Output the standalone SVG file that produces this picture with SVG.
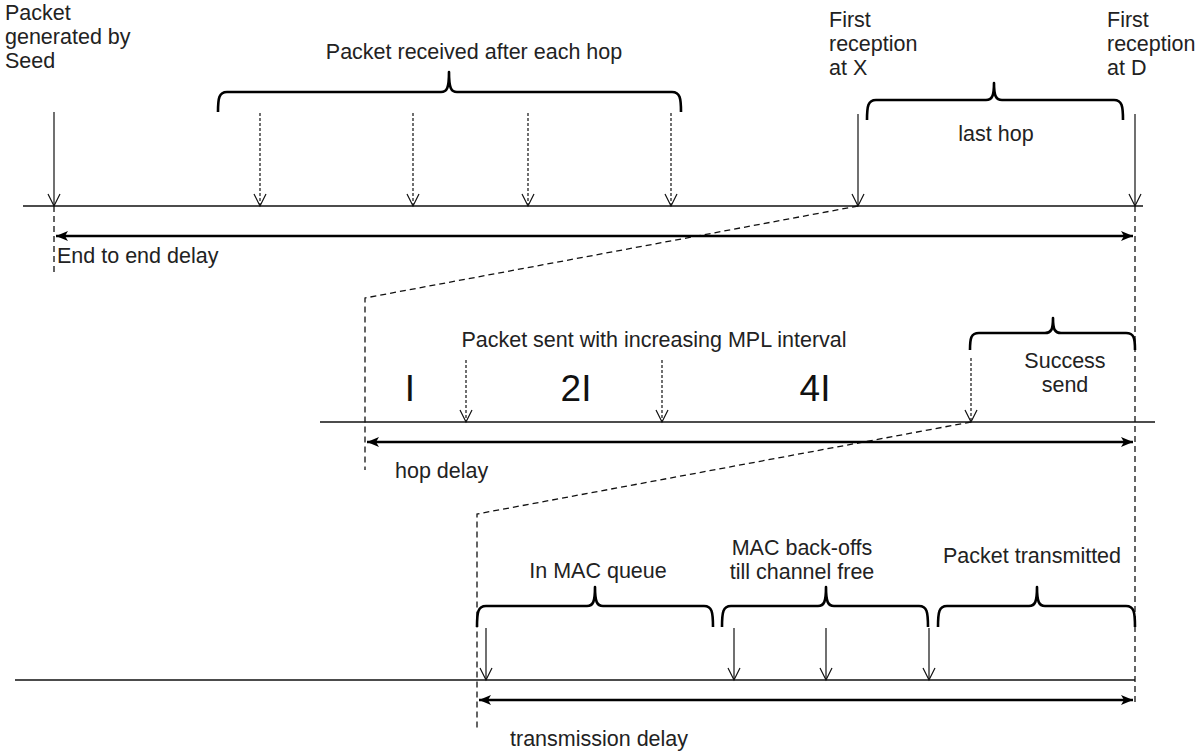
<svg xmlns="http://www.w3.org/2000/svg" width="1204" height="752" viewBox="0 0 1204 752">
<style>
text{font-family:"Liberation Sans",Arial,sans-serif;font-size:21.5px;fill:#222}
.big{font-size:37px;fill:#111}
.tl{stroke:#111;stroke-width:1.3;fill:none}
.arr{stroke:#111;stroke-width:1.2;fill:none;marker-end:url(#vh)}
.dot{stroke:#111;stroke-width:1.2;fill:none;stroke-dasharray:3 2;marker-end:url(#vh)}
.dash{stroke:#111;stroke-width:1.3;fill:none;stroke-dasharray:6 4}
.delay{stroke:#000;stroke-width:2.6;fill:none;marker-start:url(#fh);marker-end:url(#fh)}
.brace{stroke:#000;stroke-width:2.6;fill:none;stroke-linejoin:round}
</style>
<defs>
<marker id="vh" markerUnits="userSpaceOnUse" markerWidth="16" markerHeight="16" refX="12" refY="6" orient="auto" overflow="visible">
<path d="M0,0 L12,6 L0,12" fill="none" stroke="#111" stroke-width="1.2"/>
</marker>
<marker id="fh" markerUnits="userSpaceOnUse" markerWidth="14" markerHeight="12" refX="12" refY="5" orient="auto-start-reverse" overflow="visible">
<path d="M0,0 L12,5 L0,10 L3,5 z" fill="#000"/>
</marker>
</defs>
<rect width="1204" height="752" fill="#fff"/>

<g id="connectors">
<line class="tl" x1="23" y1="206" x2="1143" y2="206"/>
<line class="tl" x1="320" y1="422" x2="1155" y2="422"/>
<line class="tl" x1="15" y1="680" x2="1135" y2="680"/>
<line class="arr" x1="54" y1="112" x2="54" y2="206"/>
<line class="dot" x1="260" y1="113" x2="260" y2="206"/>
<line class="dot" x1="413" y1="113" x2="413" y2="206"/>
<line class="dot" x1="528" y1="113" x2="528" y2="206"/>
<line class="dot" x1="671" y1="113" x2="671" y2="206"/>
<line class="arr" x1="858" y1="114" x2="858" y2="206"/>
<line class="arr" x1="1135" y1="114" x2="1135" y2="206"/>
<line class="dot" x1="466" y1="360" x2="466" y2="422"/>
<line class="dot" x1="662" y1="360" x2="662" y2="422"/>
<line class="dot" x1="971" y1="358" x2="971" y2="422"/>
<line class="arr" x1="486" y1="628" x2="486" y2="680"/>
<line class="arr" x1="734" y1="628" x2="734" y2="680"/>
<line class="arr" x1="826" y1="628" x2="826" y2="680"/>
<line class="arr" x1="929" y1="628" x2="929" y2="680"/>
<line class="dash" x1="54" y1="206" x2="54" y2="272"/>
<line class="dash" x1="1135" y1="206" x2="1135" y2="702"/>
<polyline class="dash" points="858,206 365,298 365,470"/>
<polyline class="dash" points="971,422 477,514 477,730"/>
<line class="delay" x1="56" y1="236" x2="1133" y2="236"/>
<line class="delay" x1="367" y1="442" x2="1133" y2="442"/>
<line class="delay" x1="479" y1="700" x2="1133" y2="700"/>
</g>

<g id="seed-label">
<text x="5" y="20">Packet</text>
<text x="5" y="44">generated by</text>
<text x="5" y="68">Seed</text>
</g>

<g id="hops-brace">
<path class="brace" d="M218,112 C218,98 219,92 227,92 L441,92 C447,92 449,88 449,72 C449,88 451,92 457,92 L672,92 C680,92 681,98 681,112"/>
<text x="474" y="59" text-anchor="middle">Packet received after each hop</text>
</g>

<g id="x-label">
<text x="829" y="27">First</text>
<text x="829" y="51">reception</text>
<text x="829" y="75">at X</text>
</g>

<g id="d-label">
<text x="1107" y="27">First</text>
<text x="1107" y="51">reception</text>
<text x="1107" y="75">at D</text>
</g>

<g id="lasthop-brace">
<path class="brace" d="M867,120 C867,106 868,100 876,100 L986,100 C992,100 994,96 994,83 C994,96 996,100 1002,100 L1114,100 C1122,100 1123,106 1123,120"/>
<text x="996" y="141" text-anchor="middle">last hop</text>
</g>

<g id="e2e-label">
<text x="57" y="263">End to end delay</text>
</g>

<g id="mpl-label">
<text x="654" y="347" text-anchor="middle">Packet sent with increasing MPL interval</text>
<text class="big" x="410" y="401" text-anchor="middle">I</text>
<text class="big" x="576" y="401" text-anchor="middle">2I</text>
<text class="big" x="815" y="401" text-anchor="middle">4I</text>
</g>

<g id="success-brace">
<path class="brace" d="M970,350 C970,338 971,333 979,333 L1045,333 C1051,333 1053,330 1053,318 C1053,330 1055,333 1061,333 L1126,333 C1134,333 1135,338 1135,350"/>
<text x="1065" y="368" text-anchor="middle">Success</text>
<text x="1065" y="392" text-anchor="middle">send</text>
</g>

<g id="hopdelay-label">
<text x="395" y="478">hop delay</text>
</g>

<g id="macqueue-brace">
<path class="brace" d="M477,627 C477,612 478,606 486,606 L587,606 C593,606 595,602 595,587 C595,602 597,606 603,606 L704,606 C712,606 713,612 713,627"/>
<text x="598" y="578" text-anchor="middle">In MAC queue</text>
</g>

<g id="backoff-brace">
<path class="brace" d="M722,627 C722,612 723,606 731,606 L818,606 C824,606 826,602 826,587 C826,602 828,606 834,606 L919,606 C927,606 928,612 928,627"/>
<text x="802" y="555" text-anchor="middle">MAC back-offs</text>
<text x="802" y="579" text-anchor="middle">till channel free</text>
</g>

<g id="transmitted-brace">
<path class="brace" d="M938,627 C938,612 939,606 947,606 L1029,606 C1035,606 1037,602 1037,587 C1037,602 1039,606 1045,606 L1126,606 C1134,606 1135,612 1135,627"/>
<text x="1032" y="563" text-anchor="middle">Packet transmitted</text>
</g>

<g id="txdelay-label">
<text x="510" y="746">transmission delay</text>
</g>
</svg>
